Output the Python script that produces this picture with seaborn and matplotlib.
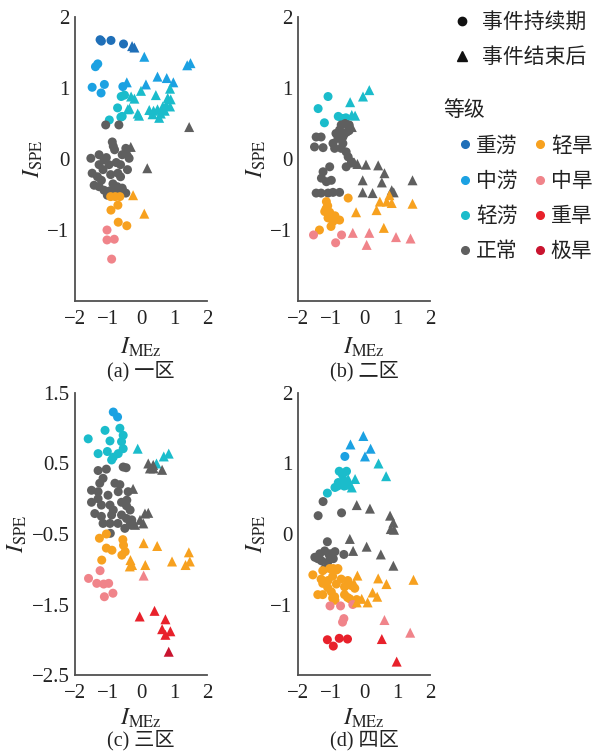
import pandas as pd
import matplotlib
matplotlib.use('Agg')
import matplotlib.pyplot as plt
from matplotlib.lines import Line2D
import seaborn as sns

# ---- data: (I_MEz, I_SPE, grade) ----
a_during = [(-1.24, 1.68, '重涝'), (-1.20, 1.66, '重涝'), (-0.91, 1.67, '重涝'), (-0.53, 1.62, '重涝'),
            (-1.38, 1.30, '中涝'), (-1.31, 1.34, '中涝'), (-1.48, 1.01, '中涝'), (-1.11, 1.05, '中涝'),
            (-1.21, 0.93, '中涝'), (-0.55, 1.02, '中涝'),
            (-0.60, 0.88, '轻涝'), (-0.50, 0.90, '轻涝'), (-0.71, 0.72, '轻涝'), (-0.61, 0.59, '轻涝'),
            (-0.96, 0.55, '轻涝'), (-0.57, 0.60, '轻涝'),
            (-1.07, 0.48, '正常'), (-0.67, 0.48, '正常'), (-0.87, 0.24, '正常'), (-0.80, 0.13, '正常'),
            (-0.84, 0.18, '正常'), (-1.52, 0.01, '正常'), (-1.27, 0.06, '正常'), (-1.12, -0.01, '正常'),
            (-1.27, -0.08, '正常'), (-0.97, -0.08, '正常'), (-0.57, 0.06, '正常'), (-0.46, 0.15, '正常'),
            (-0.62, -0.08, '正常'), (-0.36, 0.01, '正常'), (-0.41, -0.15, '正常'), (-1.48, -0.20, '正常'),
            (-1.32, -0.25, '正常'), (-0.92, -0.22, '正常'), (-0.62, -0.25, '正常'), (-1.42, -0.37, '正常'),
            (-1.27, -0.39, '正常'), (-1.12, -0.44, '正常'), (-0.72, -0.39, '正常'), (-0.57, -0.41, '正常'),
            (-0.46, -0.48, '正常'), (-1.02, -0.51, '正常'), (-0.77, -0.46, '正常'), (-1.20, -0.30, '正常'),
            (-0.85, -0.35, '正常'), (-1.05, 0.02, '正常'), (-0.75, -0.05, '正常'), (-1.15, -0.15, '正常'),
            (-0.70, -0.20, '正常'), (-0.55, -0.45, '正常'), (-0.95, -0.45, '正常'),
            (-0.92, -0.53, '轻旱'), (-0.78, -0.53, '轻旱'), (-0.64, -0.53, '轻旱'), (-0.91, -0.72, '轻旱'),
            (-0.70, -0.65, '轻旱'), (-0.69, -0.89, '轻旱'), (-0.43, -0.94, '轻旱'),
            (-1.03, -1.00, '中旱'), (-1.03, -1.14, '中旱'), (-0.81, -1.13, '中旱'), (-0.89, -1.41, '中旱')]
a_after = [(-0.27, 1.59, '重涝'), (-0.20, 1.57, '重涝'),
           (0.10, 1.44, '中涝'), (1.40, 1.32, '中涝'), (1.50, 1.35, '中涝'), (-0.43, 1.08, '中涝'),
           (0.15, 1.05, '中涝'), (0.50, 1.16, '中涝'), (0.78, 1.14, '中涝'), (0.98, 1.08, '中涝'),
           (0.88, 0.99, '轻涝'), (-0.30, 0.88, '轻涝'), (-0.20, 0.85, '轻涝'), (0.00, 0.96, '轻涝'),
           (0.45, 0.90, '轻涝'), (0.81, 0.86, '轻涝'), (0.90, 0.84, '轻涝'), (0.76, 0.76, '轻涝'),
           (0.88, 0.74, '轻涝'), (-0.35, 0.71, '轻涝'), (-0.10, 0.64, '轻涝'), (0.25, 0.69, '轻涝'),
           (0.38, 0.68, '轻涝'), (0.50, 0.70, '轻涝'), (0.66, 0.74, '轻涝'), (0.60, 0.64, '轻涝'),
           (-0.06, 0.61, '轻涝'), (0.35, 0.63, '轻涝'), (0.55, 0.58, '轻涝'), (0.72, 0.68, '轻涝'),
           (-0.40, 0.70, '轻涝'),
           (1.46, 0.45, '正常'), (-0.31, 0.17, '正常'), (0.19, -0.13, '正常'), (-0.40, 0.10, '正常'),
           (-0.24, -0.51, '轻旱'), (0.10, -0.77, '轻旱')]

b_during = [(-1.09, 0.88, '轻涝'), (-1.39, 0.71, '轻涝'), (-1.20, 0.51, '轻涝'), (-0.78, 0.60, '轻涝'),
            (-0.65, 0.57, '轻涝'), (-0.55, 0.58, '轻涝'),
            (-1.45, 0.31, '正常'), (-1.30, 0.31, '正常'), (-1.50, 0.17, '正常'), (-1.24, 0.16, '正常'),
            (-0.94, 0.22, '正常'), (-0.89, 0.15, '正常'), (-0.69, 0.48, '正常'), (-0.57, 0.50, '正常'),
            (-0.45, 0.48, '正常'), (-0.74, 0.41, '正常'), (-0.64, 0.31, '正常'), (-0.52, 0.38, '正常'),
            (-0.45, 0.40, '正常'), (-0.79, 0.29, '正常'), (-0.64, 0.22, '正常'), (-0.69, 0.15, '正常'),
            (-0.54, 0.10, '正常'), (-0.48, 0.03, '正常'), (-0.38, -0.04, '正常'), (-0.54, -0.11, '正常'),
            (-1.04, -0.11, '正常'), (-1.24, -0.18, '正常'), (-1.29, -0.27, '正常'), (-1.14, -0.32, '正常'),
            (-0.99, -0.30, '正常'), (-1.45, -0.48, '正常'), (-1.30, -0.48, '正常'), (-1.09, -0.48, '正常'),
            (-0.94, -0.47, '正常'), (-0.74, -0.47, '正常'), (-0.60, 0.35, '正常'), (-0.85, 0.36, '正常'),
            (-0.48, -0.55, '轻旱'), (-1.14, -0.60, '轻旱'), (-1.10, -0.66, '轻旱'), (-1.19, -0.74, '轻旱'),
            (-1.04, -0.75, '轻旱'), (-1.09, -0.83, '轻旱'), (-0.94, -0.88, '轻旱'), (-0.74, -0.86, '轻旱'),
            (-1.00, -0.95, '轻旱'), (-1.35, -1.00, '轻旱'), (-0.88, -0.80, '轻旱'), (-1.15, -0.70, '轻旱'),
            (-1.53, -1.07, '中旱'), (-0.86, -1.18, '中旱'), (-0.68, -1.07, '中旱')]
b_after = [(-0.42, 0.80, '轻涝'), (-0.03, 0.88, '轻涝'), (0.16, 0.97, '轻涝'), (-0.37, 0.62, '轻涝'),
           (-0.27, 0.61, '轻涝'),
           (-0.37, 0.45, '正常'), (-0.30, -0.05, '正常'), (-0.20, -0.07, '正常'), (0.06, -0.08, '正常'),
           (0.43, -0.09, '正常'), (0.62, -0.20, '正常'), (-0.04, -0.30, '正常'), (0.54, -0.33, '正常'),
           (1.47, -0.30, '正常'), (-0.04, -0.47, '正常'), (0.26, -0.48, '正常'), (0.84, -0.44, '正常'),
           (0.90, -0.47, '正常'),
           (-0.24, -0.75, '轻旱'), (0.38, -0.72, '轻旱'), (0.48, -0.60, '轻旱'), (0.69, -0.60, '轻旱'),
           (0.84, -0.62, '轻旱'), (0.77, -0.51, '轻旱'), (1.47, -0.63, '轻旱'), (0.60, -0.97, '轻旱'),
           (-0.34, -1.04, '中旱'), (0.16, -1.04, '中旱'), (0.08, -1.21, '中旱'), (0.97, -1.10, '中旱'),
           (1.41, -1.12, '中旱')]

c_during = [(-0.84, 1.23, '中涝'), (-0.71, 1.16, '中涝'),
            (-1.09, 0.97, '轻涝'), (-0.64, 1.00, '轻涝'), (-0.54, 0.90, '轻涝'), (-1.60, 0.85, '轻涝'),
            (-0.94, 0.82, '轻涝'), (-0.59, 0.81, '轻涝'), (-1.30, 0.64, '轻涝'), (-1.02, 0.67, '轻涝'),
            (-0.84, 0.59, '轻涝'), (-0.69, 0.64, '轻涝'), (-0.54, 0.71, '轻涝'), (-0.89, 0.55, '轻涝'),
            (-1.30, 0.40, '正常'), (-1.05, 0.42, '正常'), (-0.54, 0.45, '正常'), (-0.45, 0.44, '正常'),
            (-1.15, 0.29, '正常'), (-1.25, 0.22, '正常'), (-1.50, 0.12, '正常'), (-1.30, 0.10, '正常'),
            (-0.79, 0.22, '正常'), (-0.64, 0.20, '正常'), (-0.69, 0.10, '正常'), (-0.39, 0.10, '正常'),
            (-1.50, -0.05, '正常'), (-1.30, 0.00, '正常'), (-1.20, -0.09, '正常'), (-0.94, -0.09, '正常'),
            (-0.84, -0.16, '正常'), (-0.59, -0.05, '正常'), (-0.44, -0.10, '正常'), (-0.33, -0.16, '正常'),
            (-1.40, -0.21, '正常'), (-1.20, -0.25, '正常'), (-0.89, -0.23, '正常'), (-0.59, -0.23, '正常'),
            (-0.44, -0.28, '正常'), (-0.28, -0.30, '正常'), (-1.15, -0.35, '正常'), (-0.94, -0.35, '正常'),
            (-0.70, -0.35, '正常'), (-0.49, -0.42, '正常'), (-0.33, -0.37, '正常'), (-0.93, -0.49, '正常'),
            (-0.43, -0.02, '正常'), (-1.00, 0.05, '正常'),
            (-1.26, -0.56, '轻旱'), (-1.05, -0.50, '轻旱'), (-1.05, -0.70, '轻旱'), (-0.88, -0.73, '轻旱'),
            (-1.19, -0.87, '轻旱'), (-0.55, -0.58, '轻旱'), (-0.53, -0.66, '轻旱'), (-0.48, -0.75, '轻旱'),
            (-0.58, -0.80, '轻旱'),
            (-1.59, -1.13, '中旱'), (-1.24, -1.02, '中旱'), (-1.34, -1.20, '中旱'), (-1.13, -1.21, '中旱'),
            (-0.98, -1.20, '中旱'), (-1.11, -1.39, '中旱'), (-0.85, -1.34, '中旱')]
c_after = [(-0.10, 0.71, '轻涝'), (0.47, 0.50, '轻涝'), (0.69, 0.60, '轻涝'), (0.84, 0.64, '轻涝'),
           (0.22, 0.50, '正常'), (0.37, 0.48, '正常'), (0.27, 0.43, '正常'), (0.38, 0.43, '正常'),
           (0.64, 0.41, '正常'), (-0.24, 0.14, '正常'), (-0.03, -0.30, '正常'), (0.12, -0.21, '正常'),
           (0.22, -0.20, '正常'), (0.07, -0.35, '正常'), (-0.18, -0.37, '正常'),
           (-0.32, -0.87, '轻旱'), (-0.27, -0.94, '轻旱'), (-0.34, -0.96, '轻旱'), (0.08, -0.63, '轻旱'),
           (0.49, -0.67, '轻旱'), (0.94, -0.89, '轻旱'), (1.45, -0.76, '轻旱'), (1.48, -0.89, '轻旱'),
           (1.35, -0.94, '轻旱'), (0.13, -0.94, '轻旱'),
           (0.08, -1.09, '中旱'),
           (-0.04, -1.67, '重旱'), (0.41, -1.59, '重旱'), (0.74, -1.71, '重旱'), (0.64, -1.85, '重旱'),
           (0.89, -1.88, '重旱'), (0.74, -1.93, '重旱'),
           (0.84, -2.17, '极旱')]

d_during = [(-0.58, 1.10, '中涝'),
            (-0.75, 0.89, '轻涝'), (-0.53, 0.89, '轻涝'), (-0.65, 0.84, '轻涝'), (-0.78, 0.73, '轻涝'),
            (-0.88, 0.66, '轻涝'), (-1.11, 0.58, '轻涝'), (-0.70, 0.70, '轻涝'), (-0.60, 0.68, '轻涝'),
            (-0.62, 0.76, '轻涝'), (-0.80, 0.68, '轻涝'),
            (-1.24, 0.46, '正常'), (-1.39, 0.26, '正常'), (-0.68, 0.30, '正常'), (-1.11, -0.11, '正常'),
            (-1.34, -0.28, '正常'), (-1.49, -0.33, '正常'), (-1.19, -0.24, '正常'), (-1.03, -0.28, '正常'),
            (-0.88, -0.25, '正常'), (-1.29, -0.38, '正常'), (-0.93, -0.35, '正常'), (-0.61, -0.29, '正常'),
            (-1.19, -0.49, '正常'), (-1.10, -0.40, '正常'), (-1.05, -0.30, '正常'), (-1.40, -0.35, '正常'),
            (-1.55, -0.58, '轻旱'), (-1.25, -0.52, '轻旱'), (-1.04, -0.49, '轻旱'), (-0.79, -0.49, '轻旱'),
            (-1.30, -0.64, '轻旱'), (-1.09, -0.66, '轻旱'), (-0.95, -0.60, '轻旱'), (-0.84, -0.71, '轻旱'),
            (-0.69, -0.64, '轻旱'), (-0.49, -0.66, '轻旱'), (-0.39, -0.73, '轻旱'), (-0.28, -0.77, '轻旱'),
            (-0.59, -0.75, '轻旱'), (-1.40, -0.86, '轻旱'), (-1.25, -0.86, '轻旱'), (-0.99, -0.82, '轻旱'),
            (-0.89, -0.89, '轻旱'), (-0.59, -0.86, '轻旱'), (-0.50, -0.90, '轻旱'), (-0.95, -0.91, '轻旱'),
            (-0.88, -0.94, '轻旱'), (-0.43, -0.92, '轻旱'), (-0.22, -0.93, '轻旱'), (-0.93, -0.49, '轻旱'),
            (-0.83, -0.51, '轻旱'), (-1.25, -0.70, '轻旱'), (-1.10, -0.76, '轻旱'),
            (-1.03, -1.02, '中旱'), (-0.71, -1.02, '中旱'), (-0.34, -1.00, '中旱'), (-0.61, -1.20, '中旱'),
            (-0.65, -1.25, '中旱'),
            (-1.11, -1.50, '重旱'), (-0.93, -1.59, '重旱'), (-0.75, -1.48, '重旱'), (-0.50, -1.49, '重旱')]
d_after = [(-0.41, 1.27, '中涝'), (-0.02, 1.39, '中涝'), (0.20, 1.21, '中涝'), (0.03, 1.10, '中涝'),
           (0.44, 1.00, '轻涝'), (0.67, 0.82, '轻涝'), (-0.48, 0.78, '轻涝'), (-0.27, 0.78, '轻涝'),
           (-0.37, 0.66, '轻涝'), (-0.45, 0.70, '轻涝'),
           (-0.22, 0.41, '正常'), (0.18, 0.36, '正常'), (0.79, 0.26, '正常'), (0.89, 0.16, '正常'),
           (0.81, 0.07, '正常'), (0.91, 0.06, '正常'), (-0.43, -0.07, '正常'), (-0.33, -0.24, '正常'),
           (0.08, -0.18, '正常'), (0.51, -0.29, '正常'), (0.89, -0.45, '正常'),
           (-0.20, -0.59, '轻旱'), (0.43, -0.63, '轻旱'), (0.68, -0.71, '轻旱'), (1.50, -0.65, '轻旱'),
           (0.26, -0.83, '轻旱'), (0.40, -0.89, '轻旱'), (-0.07, -0.92, '轻旱'), (0.11, -0.97, '轻旱'),
           (-0.22, -0.97, '轻旱'), (-0.30, -0.70, '轻旱'),
           (0.62, -1.22, '中旱'), (1.40, -1.40, '中旱'),
           (0.54, -1.49, '重旱'), (0.99, -1.81, '重旱')]

grades = ['重涝', '中涝', '轻涝', '正常', '轻旱', '中旱', '重旱', '极旱']
grade_colors = ['#1f6fb8', '#1ba1e2', '#1bbccb', '#5f5f5f', '#f7a11f', '#f0848a', '#e8212b', '#c9142f']
phases = ['事件持续期', '事件结束后']
captions = ['(a) 一区', '(b) 二区', '(c) 三区', '(d) 四区']
y_ranges = [(-2, 2), (-2, 2), (-2.5, 1.5), (-2, 2)]
y_ticks = [[-1, 0, 1, 2], [-1, 0, 1, 2], [-2.5, -1.5, -0.5, 0.5, 1.5], [-1, 0, 1, 2]]

palette = dict(zip(grades, grade_colors))

sns.set_style('white')
plt.rcParams['font.family'] = ['Liberation Serif', 'Noto Sans CJK SC']
plt.rcParams['mathtext.fontset'] = 'stix'
plt.rcParams['axes.unicode_minus'] = True

fig = plt.figure(figsize=(5.94, 7.55), dpi=100)
boxes = [(75, 17, 132, 284), (298, 17, 132, 284), (75, 393, 132, 282), (298, 393, 132, 282)]
cap_gap = [70, 70, 65, 65]
W, H = 594, 755

panels = [(a_during, a_after), (b_during, b_after), (c_during, c_after), (d_during, d_after)]
spine_col = '#505050'

for i, (dur, aft) in enumerate(panels):
    l, t, w, h = boxes[i]
    ax = fig.add_axes([l / W, 1 - (t + h) / H, w / W, h / H])
    rows = [(x, y, g, phases[0]) for x, y, g in dur] + [(x, y, g, phases[1]) for x, y, g in aft]
    df = pd.DataFrame(rows, columns=['x', 'y', 'grade', 'phase'])
    sns.scatterplot(data=df, x='x', y='y', hue='grade', style='phase', size='phase',
                    palette=palette, markers={phases[0]: 'o', phases[1]: '^'},
                    sizes={phases[0]: 42, phases[1]: 52}, linewidth=0,
                    legend=False, ax=ax, zorder=3, clip_on=False)
    ax.set_xlim(-2, 2)
    ax.set_ylim(*y_ranges[i])
    ax.set_xticks([-2, -1, 0, 1, 2])
    ax.set_yticks(y_ticks[i])
    if i == 2:
        ax.set_yticklabels(['\u22122.5', '\u22121.5', '\u22120.5', '0.5', '1.5'])
    for s in ['top', 'right']:
        ax.spines[s].set_visible(False)
    for s in ['left', 'bottom']:
        ax.spines[s].set_color(spine_col)
        ax.spines[s].set_linewidth(1.3)
    ax.tick_params(direction='in', length=3, width=1.1, color=spine_col,
                   labelsize=15, labelcolor='#222222')
    ax.tick_params(axis='x', pad=6.5)
    ax.tick_params(axis='y', pad=4)
    ax.set_xlabel(r'$I_{\mathrm{MEz}}$', fontsize=17, labelpad=5 if i < 2 else 3)
    ax.set_ylabel(r'$I_{\mathrm{SPE}}$', fontsize=17, labelpad=2)
    fig.text((l + w / 2) / W, 1 - (t + h + cap_gap[i]) / H, captions[i], ha='center', va='center',
             fontsize=14.5, color='#222222')

# legend: event phase
mk_handles = [Line2D([], [], marker='o', ls='none', color='#111111', markersize=6),
              Line2D([], [], marker='^', ls='none', color='#111111', markersize=7)]
leg1 = fig.legend(mk_handles, phases, loc='upper left', bbox_to_anchor=(452 / W, 1 - 13 / H),
                  frameon=False, fontsize=15, handletextpad=0.45, labelspacing=0.75,
                  handlelength=1.0, borderaxespad=0, borderpad=0)
for t in leg1.get_texts():
    t.set_color('#222222')

# legend: grade
fig.text(443 / W, 1 - 111 / H, '等级', ha='left', va='center', fontsize=15, color='#222222')
gr_handles = [Line2D([], [], marker='o', ls='none', color=c, markersize=5.5) for c in grade_colors]
leg2 = fig.legend(gr_handles, grades, loc='upper left', bbox_to_anchor=(458 / W, 1 - 137 / H),
                  frameon=False, fontsize=15, ncol=2, handletextpad=0.15, labelspacing=0.75,
                  columnspacing=0.75, handlelength=0.7, borderaxespad=0, borderpad=0)
for t in leg2.get_texts():
    t.set_color('#222222')

fig.savefig('out.png', dpi=100)
